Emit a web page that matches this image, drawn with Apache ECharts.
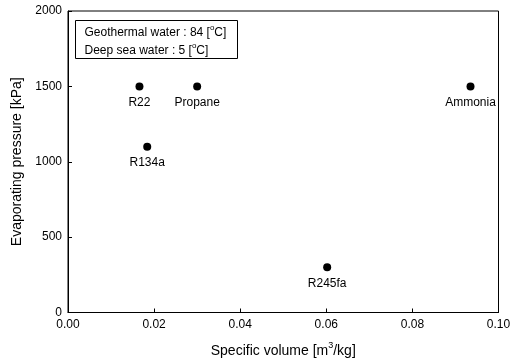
<!DOCTYPE html>
<html>
<head>
<meta charset="utf-8">
<script src="https://cdn.jsdelivr.net/npm/echarts@6/dist/echarts.min.js"></script>
<style>
  html, body { margin: 0; padding: 0; background: #fff; }
  #chart { width: 517px; height: 364px; }
</style>
</head>
<body>
<div id="chart"></div>
<script>
// refrigerants: specific volume [m3/kg] vs evaporating pressure [kPa]
var names = ['R22', 'Propane', 'R134a', 'R245fa', 'Ammonia'];
var specVolume = [0.0166, 0.0300, 0.0184, 0.0602, 0.0935];
var evapPressure = [1500, 1500, 1100, 300, 1500];
var xTicks = [0, 0.02, 0.04, 0.06, 0.08, 0.10];
var yTicks = [0, 500, 1000, 1500, 2000];

var font = 'Liberation Sans, Arial, sans-serif';
var chart = echarts.init(document.getElementById('chart'));

var points = names.map(function (n, i) {
    return { name: n, value: [specVolume[i], evapPressure[i]] };
});

var legendRich = {
    n: { fontSize: 12, fontFamily: font, fill: '#000' },
    s: { fontSize: 8, fontFamily: font, fill: '#000', padding: [0, 0, 10, 0] }
};

var option = {
    animation: false,
    backgroundColor: '#fff',
    textStyle: { fontFamily: font, color: '#000' },
    grid: {
        left: 68, right: 18.5, top: 11, bottom: 51.5,
        show: true, borderColor: '#000', borderWidth: 1, backgroundColor: 'transparent'
    },
    xAxis: {
        type: 'value',
        min: xTicks[0], max: xTicks[xTicks.length - 1], interval: 0.02,
        name: '{n|Specific volume [m}{s|3}{n|/kg]}',
        nameLocation: 'middle', nameGap: 29,
        nameTextStyle: {
            rich: {
                n: { fontSize: 14, fontFamily: font, color: '#000' },
                s: { fontSize: 9, fontFamily: font, color: '#000', padding: [0, 0, 11, 0] }
            }
        },
        axisLine: { lineStyle: { color: '#000', width: 1 } },
        axisTick: { inside: true, length: 4, lineStyle: { color: '#000' } },
        axisLabel: { fontSize: 12, color: '#000', margin: 6, formatter: function (v) { return v.toFixed(2); } },
        splitLine: { show: false }
    },
    yAxis: {
        type: 'value',
        min: yTicks[0], max: yTicks[yTicks.length - 1], interval: 500,
        name: 'Evaporating pressure [kPa]',
        nameLocation: 'middle', nameGap: 42,
        nameTextStyle: { fontSize: 14, color: '#000' },
        axisLine: { lineStyle: { color: '#000', width: 1 } },
        axisTick: { inside: true, length: 4, lineStyle: { color: '#000' } },
        axisLabel: { fontSize: 12, color: '#000', margin: 6, formatter: function (v) { return String(v); } },
        splitLine: { show: false }
    },
    graphic: [{
        type: 'group', left: 75, top: 20,
        children: [
            { type: 'rect', shape: { x: 0, y: 0, width: 162, height: 38 },
              style: { fill: '#fff', stroke: '#000', lineWidth: 1 } },
            { type: 'text', x: 9, y: 3.5,
              style: { text: '{n|Geothermal water : 84 [}{s|o}{n|C]}', rich: legendRich } },
            { type: 'text', x: 9, y: 21.5,
              style: { text: '{n|Deep sea water : 5 [}{s|o}{n|C]}', rich: legendRich } }
        ]
    }],
    series: [{
        type: 'scatter',
        data: points,
        symbol: 'circle',
        symbolSize: 8,
        itemStyle: { color: '#000', opacity: 1 },
        label: {
            show: true, position: 'bottom', distance: 6,
            fontSize: 12, color: '#000', fontFamily: font,
            formatter: function (p) { return p.name; }
        }
    }]
};
chart.setOption(option);
</script>
</body>
</html>
